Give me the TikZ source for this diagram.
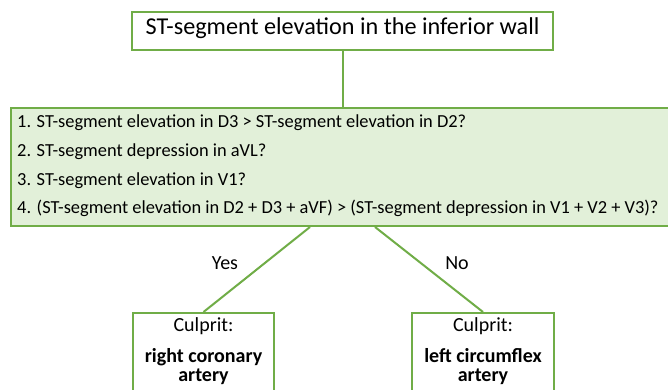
\documentclass[tikz,border=0pt]{standalone}
\usepackage{fontspec}
\setmainfont{Carlito}
\usetikzlibrary{calc}
\definecolor{gborder}{HTML}{70AD47}
\definecolor{gfill}{HTML}{E2F0D9}
\begin{document}
\begin{tikzpicture}[x=1pt,y=-1pt,
  box/.style={draw=gborder,line width=2pt,rectangle,inner sep=0pt},
  conn/.style={draw=gborder,line width=2pt},
  qline/.style={anchor=base west,inner sep=0pt,font=\fontsize{18.4}{22}\selectfont},
  lbl/.style={anchor=base,inner sep=0pt,font=\fontsize{20}{24}\selectfont},
  bld/.style={anchor=base,inner sep=0pt,font=\fontsize{20}{24}\selectfont\bfseries}]
\useasboundingbox (0,0) rectangle (668,390);
\clip (0,0) rectangle (668,390);
\fill[white] (0,0) rectangle (668,390);
% top box
\node[box,fill=white,minimum width=421pt,minimum height=38pt] (top) at (342.5,31) {};
\node[anchor=base,inner sep=0pt,font=\fontsize{24.2}{28}\selectfont] (title) at (342.5,35) {ST-segment elevation in the inferior wall};
% question box
\node[box,fill=gfill,minimum width=659pt,minimum height=118pt] (qbox) at (340.5,167) {};
\node[qline] (q1) at (17,128) {1. ST-segment elevation in D3 > ST-segment elevation in D2?};
\node[qline] (q2) at (17,156.5) {2. ST-segment depression in aVL?};
\node[qline] (q3) at (17,185) {3. ST-segment elevation in V1?};
\node[qline] (q4) at (17,213) {4. (ST-segment elevation in D2 + D3 + aVF) > (ST-segment depression in V1 + V2 + V3)?};
% result boxes
\node[box,fill=white,minimum width=141pt,minimum height=107pt] (rca) at (203.5,366.5) {};
\node[box,fill=white,minimum width=142pt,minimum height=107pt] (lcx) at (483,366.5) {};
\node[lbl] (rca1) at (203.5,331) {Culprit:};
\node[bld] (rca2) at (203.5,362) {right coronary};
\node[bld] (rca3) at (203.5,381) {artery};
\node[lbl] (lcx1) at (483,331) {Culprit:};
\node[bld] (lcx2) at (483,362) {left circumflex};
\node[bld] (lcx3) at (483,381) {artery};
% connectors
\draw[conn] (top.south) -- (top.south |- qbox.north);
\draw[conn] ([xshift=-30.5pt]qbox.south) -- (rca.north);
\draw[conn] ([xshift=34.5pt]qbox.south) -- (lcx.north);
% labels
\node[lbl] (yes) at (225,269) {Yes};
\node[lbl] (no) at (457,269) {No};
\end{tikzpicture}
\end{document}
